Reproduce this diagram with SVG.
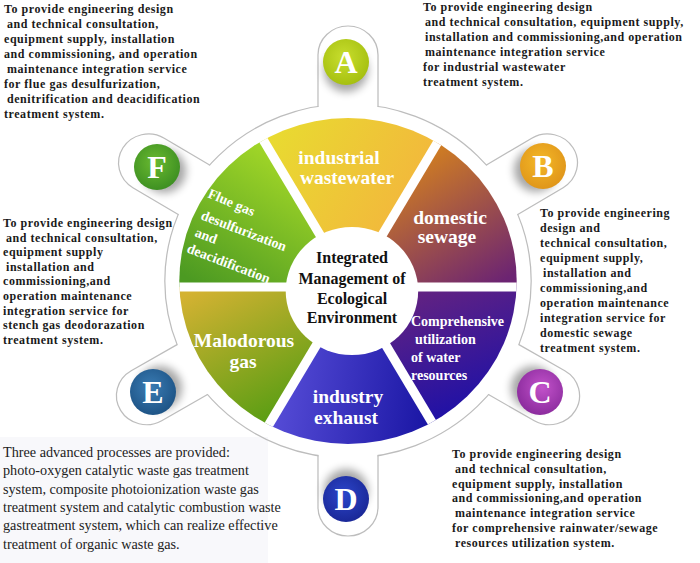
<svg xmlns="http://www.w3.org/2000/svg" width="700" height="563" viewBox="0 0 700 563">
<defs>
<linearGradient id="gTop" gradientUnits="userSpaceOnUse" x1="-80" y1="-150" x2="80" y2="-60"><stop offset="0" stop-color="#e8dc30"/><stop offset="1" stop-color="#f4b23e"/></linearGradient>
<linearGradient id="gDom" gradientUnits="userSpaceOnUse" x1="60" y1="-140" x2="150" y2="0"><stop offset="0" stop-color="#dc8818"/><stop offset="1" stop-color="#6c2472"/></linearGradient>
<linearGradient id="gComp" gradientUnits="userSpaceOnUse" x1="80" y1="0" x2="130" y2="130"><stop offset="0" stop-color="#652380"/><stop offset="1" stop-color="#1c10a8"/></linearGradient>
<linearGradient id="gInd" gradientUnits="userSpaceOnUse" x1="-80" y1="100" x2="80" y2="120"><stop offset="0" stop-color="#5a50da"/><stop offset="1" stop-color="#1a16a4"/></linearGradient>
<linearGradient id="gMal" gradientUnits="userSpaceOnUse" x1="-150" y1="10" x2="-80" y2="140"><stop offset="0" stop-color="#d4b232"/><stop offset="1" stop-color="#5c9e14"/></linearGradient>
<linearGradient id="gFlue" gradientUnits="userSpaceOnUse" x1="-60" y1="-140" x2="-150" y2="0"><stop offset="0" stop-color="#aadc28"/><stop offset="1" stop-color="#4c9a22"/></linearGradient>
<radialGradient id="cA" cx="0.45" cy="0.4" r="0.6"><stop offset="0" stop-color="#c8de2e"/><stop offset="1" stop-color="#a6c010"/></radialGradient>
<radialGradient id="cB" cx="0.45" cy="0.4" r="0.6"><stop offset="0" stop-color="#f4b828"/><stop offset="1" stop-color="#e0961a"/></radialGradient>
<radialGradient id="cC" cx="0.55" cy="0.4" r="0.6"><stop offset="0" stop-color="#c252ca"/><stop offset="1" stop-color="#8c2c9e"/></radialGradient>
<radialGradient id="cD" cx="0.45" cy="0.4" r="0.6"><stop offset="0" stop-color="#2c46ca"/><stop offset="1" stop-color="#1a2898"/></radialGradient>
<radialGradient id="cE" cx="0.45" cy="0.4" r="0.6"><stop offset="0" stop-color="#3a7cb4"/><stop offset="1" stop-color="#1e5486"/></radialGradient>
<radialGradient id="cF" cx="0.45" cy="0.4" r="0.6"><stop offset="0" stop-color="#6aba30"/><stop offset="1" stop-color="#3e9022"/></radialGradient>
<filter id="blur" x="-50%" y="-50%" width="200%" height="200%"><feGaussianBlur stdDeviation="4"/></filter>
<clipPath id="wheelClip"><circle cx="0" cy="0" r="163"/></clipPath>
<g id="tab">
<path d="M-28.4,-168 L-28.4,-226 A28.4,28.4 0 0 1 28.4,-226 L28.4,-168 Z" fill="#fff"/>
<path class="ring" d="M-29,-174.6 L-29,-226 A29,29 0 0 1 29,-226 L29,-174.6"/>
</g>
</defs>
<style>
.ring{fill:none;stroke:#bdbdbd;stroke-width:1.2}
.d{font-family:"Liberation Serif","Times New Roman",serif;font-weight:bold;font-size:12px;letter-spacing:0.55px;fill:#1a1a1a}
.p{font-family:"Liberation Serif","Times New Roman",serif;font-size:14.2px;fill:#222}
.w{font-family:"Liberation Serif","Times New Roman",serif;font-weight:bold;fill:#fff}
.s{font-size:19.5px;text-anchor:middle}
.m{font-size:14px}
.c{font-family:"Liberation Serif","Times New Roman",serif;font-weight:bold;font-size:16px;fill:#111;text-anchor:middle}
.l{font-family:"Liberation Serif","Times New Roman",serif;font-weight:bold;font-size:32px;fill:#fff;text-anchor:middle}
.sh{fill:#000;opacity:0.35;filter:url(#blur)}
</style>
<rect x="0" y="0" width="700" height="563" fill="#fff"/>
<rect x="0" y="437" width="268" height="126" fill="#f8f8fb"/>

<g id="wheel" transform="translate(348,281) scale(1.035,1)">
<g clip-path="url(#wheelClip)">
<polygon id="seg-industrial-wastewater" points="3,6 -112,-193.2 118,-193.2" fill="url(#gTop)"/>
<polygon id="seg-domestic-sewage" points="3,6 118,-193.2 233,6" fill="url(#gDom)"/>
<polygon id="seg-water-resources" points="3,6 233,6 118,205.2" fill="url(#gComp)"/>
<polygon id="seg-industry-exhaust" points="3,6 118,205.2 -112,205.2" fill="url(#gInd)"/>
<polygon id="seg-malodorous-gas" points="3,6 -112,205.2 -227,6" fill="url(#gMal)"/>
<polygon id="seg-flue-gas" points="3,6 -227,6 -112,-193.2" fill="url(#gFlue)"/>
<g stroke="#fff" stroke-width="9">
<line x1="-230" y1="6" x2="236" y2="6"/>
<line x1="-112" y1="-193.2" x2="118" y2="205.2"/>
<line x1="118" y1="-193.2" x2="-112" y2="205.2"/>
</g>
</g>
<circle cx="3.8" cy="10" r="64" fill="#fff"/>
</g>

<g id="connectors" transform="translate(348,281) scale(1.035,1)">
<circle class="ring" cx="0" cy="0" r="177"/>
<use href="#tab" transform="rotate(0)"/>
<use href="#tab" transform="rotate(58.5)"/>
<use href="#tab" transform="rotate(120.5)"/>
<use href="#tab" transform="rotate(180)"/>
<use href="#tab" transform="rotate(239.5)"/>
<use href="#tab" transform="rotate(301.5)"/>
</g>

<g id="node-center">
<text class="c" x="352" y="263">Integrated</text>
<text class="c" x="352" y="284">Management of</text>
<text class="c" x="352" y="304">Ecological</text>
<text class="c" x="352" y="323">Environment</text>
</g>

<g id="label-industrial-wastewater" class="w s">
<text x="339" y="164">industrial</text>
<text x="347" y="184">wastewater</text>
</g>
<g id="label-domestic-sewage" class="w s">
<text x="450" y="224">domestic</text>
<text x="447" y="243">sewage</text>
</g>
<g id="label-water-resources" class="w m">
<text x="411" y="326">Comprehensive</text>
<text x="415" y="344">utilization</text>
<text x="411" y="362">of water</text>
<text x="411" y="380">resources</text>
</g>
<g id="label-industry-exhaust" class="w s">
<text x="348" y="403">industry</text>
<text x="346" y="424">exhaust</text>
</g>
<g id="label-malodorous-gas" class="w s">
<text x="244" y="347">Malodorous</text>
<text x="243" y="368">gas</text>
</g>
<g id="label-flue-gas" class="w m">
<text transform="translate(207,197) rotate(23)">Flue gas</text>
<text transform="translate(200,219) rotate(21)">desulfurization</text>
<text transform="translate(194,236) rotate(21)">and</text>
<text transform="translate(186,252) rotate(21)">deacidification</text>
</g>

<g id="node-A">
<circle class="sh" cx="346" cy="70" r="22"/>
<circle cx="346" cy="62" r="23" fill="url(#cA)"/>
<text class="l" x="346" y="73">A</text>
</g>
<g id="node-B">
<circle class="sh" cx="536" cy="170" r="22"/>
<circle cx="543" cy="166" r="23" fill="url(#cB)"/>
<text class="l" x="543" y="177">B</text>
</g>
<g id="node-C">
<circle class="sh" cx="533" cy="388" r="22"/>
<circle cx="540" cy="392" r="23" fill="url(#cC)"/>
<text class="l" x="540" y="403">C</text>
</g>
<g id="node-D">
<circle class="sh" cx="346" cy="491" r="22"/>
<circle cx="346" cy="499" r="23" fill="url(#cD)"/>
<text class="l" x="346" y="510">D</text>
</g>
<g id="node-E">
<circle class="sh" cx="160" cy="388" r="22"/>
<circle cx="153" cy="392" r="23" fill="url(#cE)"/>
<text class="l" x="153" y="403">E</text>
</g>
<g id="node-F">
<circle class="sh" cx="164" cy="171" r="22"/>
<circle cx="157" cy="167" r="23" fill="url(#cF)"/>
<text class="l" x="157" y="178">F</text>
</g>

<g id="text-F-top" class="d">
<text x="4" y="13">To provide engineering design</text>
<text x="7" y="28">and technical consultation,</text>
<text x="4" y="43">equipment supply, installation</text>
<text x="4" y="58">and commissioning, and operation</text>
<text x="7" y="73">maintenance integration service</text>
<text x="4" y="88">for flue gas desulfurization,</text>
<text x="7" y="103">denitrification and deacidification</text>
<text x="4" y="118">treatment system.</text>
</g>
<g id="text-A" class="d">
<text x="423" y="11">To provide engineering design</text>
<text x="425" y="26">and technical consultation, equipment supply,</text>
<text x="425" y="41">installation and commissioning,and operation</text>
<text x="425" y="56">maintenance integration service</text>
<text x="423" y="71">for industrial wastewater</text>
<text x="423" y="86">treatment system.</text>
</g>
<g id="text-B" class="d">
<text x="540" y="217">To provide engineering</text>
<text x="540" y="232">design and</text>
<text x="540" y="247">technical consultation,</text>
<text x="540" y="262">equipment supply,</text>
<text x="543" y="277">installation and</text>
<text x="540" y="292">commissioning,and</text>
<text x="540" y="307">operation maintenance</text>
<text x="540" y="322">integration service for</text>
<text x="540" y="337">domestic sewage</text>
<text x="540" y="352">treatment system.</text>
</g>
<g id="text-E-side" class="d">
<text x="3" y="227">To provide engineering design</text>
<text x="6" y="241.6">and technical consultation,</text>
<text x="3" y="256.2">equipment supply</text>
<text x="6" y="270.8">installation and</text>
<text x="3" y="285.4">commissioning,and</text>
<text x="3" y="300">operation maintenance</text>
<text x="3" y="314.6">integration service for</text>
<text x="3" y="329.2">stench gas deodorazation</text>
<text x="3" y="343.8">treatment system.</text>
</g>
<g id="text-C" class="d">
<text x="452" y="458">To provide engineering design</text>
<text x="455" y="472.8">and technical consultation,</text>
<text x="452" y="487.6">equipment supply, installation</text>
<text x="452" y="502.4">and commissioning,and operation</text>
<text x="455" y="517.2">maintenance integration service</text>
<text x="452" y="532">for comprehensive rainwater/sewage</text>
<text x="455" y="546.8">resources utilization system.</text>
</g>
<g id="text-D" class="p">
<text x="3" y="457">Three advanced processes are provided:</text>
<text x="3" y="475.3">photo-oxygen catalytic waste gas treatment</text>
<text x="3" y="493.6">system, composite photoionization waste gas</text>
<text x="3" y="511.9">treatment system and catalytic combustion waste</text>
<text x="3" y="530.2">gastreatment system, which can realize effective</text>
<text x="3" y="548.5">treatment of organic waste gas.</text>
</g>
</svg>
